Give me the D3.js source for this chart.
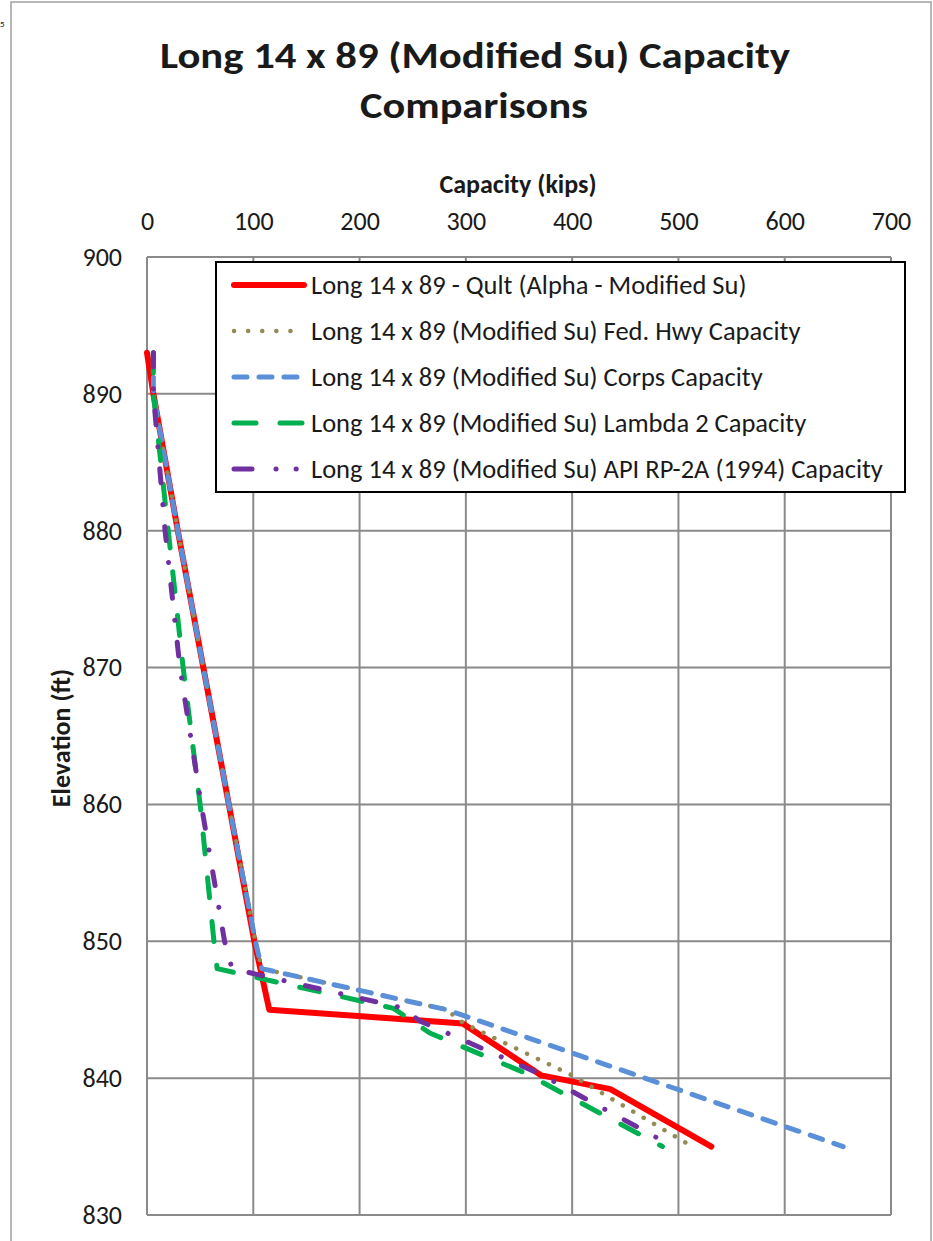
<!DOCTYPE html>
<html>
<head>
<meta charset="UTF-8">
<title>long_14x89_capacity</title>
<script src="https://cdn.jsdelivr.net/npm/d3@7"></script>
<style>
  body { margin: 0; background: #fff; }
  text { font-family: Carlito, Calibri, Lato, sans-serif; fill: #1a1a1a; }
  .tick text { font-size: 26px; }
  .legend text { font-size: 26.5px; }
</style>
</head>
<body>
<div id="chart"></div>
<script>
// tick labels
var xTicks = [0, 100, 200, 300, 400, 500, 600, 700];
var yTicks = [830, 840, 850, 860, 870, 880, 890, 900];

// series: capacity (kips) vs elevation (ft)
var qultCap  = [0, 6, 29, 53, 77, 101, 115, 297, 371, 436, 531];
var qultElev = [893, 890, 880, 870, 860, 850, 845, 844, 840.2, 839.2, 835];

var fedHwyCap  = [6, 6, 29, 53, 77, 102, 108, 282, 298, 400, 513];
var fedHwyElev = [893, 890, 880, 870, 860, 850, 848, 845, 844, 840.2, 835];

var corpsCap  = [6, 6, 29, 53, 77, 102, 108, 282, 655];
var corpsElev = [893, 890, 880, 870, 860, 850, 848, 845, 835];

var lambdaCap  = [6, 6, 20, 34, 50, 63, 66, 232, 266, 355, 485];
var lambdaElev = [893, 890, 880, 870, 860, 850, 848, 845.1, 843.3, 840.4, 835];

var apiCap  = [6, 6, 17, 31, 51, 73, 80, 242, 256, 370, 495];
var apiElev = [893, 890, 880, 870, 860, 850, 848, 845.1, 844.2, 840.3, 835];

var seriesNames = [
  "Long 14 x 89 - Qult (Alpha - Modified Su)",
  "Long 14 x 89 (Modified Su) Fed. Hwy Capacity",
  "Long 14 x 89 (Modified Su) Corps Capacity",
  "Long 14 x 89 (Modified Su) Lambda 2 Capacity",
  "Long 14 x 89 (Modified Su) API RP-2A (1994) Capacity"
];

var W = 933, H = 1241;

function zip(caps, elevs) {
  return caps.map(function (c, i) { return { cap: c, elev: elevs[i] }; });
}

var styles = [
  { color: "#ff0000", width: 6,   dash: null,                 legendDash: null },
  { color: "#948a54", width: 4.5, dash: "0.1 12",             legendDash: "0.1 14" },
  { color: "#5b8fd8", width: 5,   dash: "13 12",              legendDash: "13 12" },
  { color: "#00b050", width: 5,   dash: "20 24",              legendDash: "22 24" },
  { color: "#7030a0", width: 5,   dash: "14 22 0.1 22",       legendDash: "18 24 0.1 20 0.1 40" }
];

var series = [
  zip(qultCap, qultElev),
  zip(fedHwyCap, fedHwyElev),
  zip(corpsCap, corpsElev),
  zip(lambdaCap, lambdaElev),
  zip(apiCap, apiElev)
];

var svg = d3.select("#chart").append("svg")
  .attr("width", W)
  .attr("height", H);

// chart frame
svg.append("rect")
  .attr("x", 11).attr("y", 2)
  .attr("width", 920).attr("height", H + 10)
  .attr("fill", "none")
  .attr("stroke", "#a0a0a0")
  .attr("stroke-width", 1.5);

svg.append("text")
  .attr("x", 0).attr("y", 27)
  .style("font-size", "9px")
  .text("5");

var x = d3.scaleLinear().domain([0, 700]).range([147, 891]);
var y = d3.scaleLinear().domain([830, 900]).range([1215, 257]);

// gridlines
svg.append("g").selectAll("line.gx")
  .data(xTicks).enter().append("line")
    .attr("x1", function (d) { return x(d); })
    .attr("x2", function (d) { return x(d); })
    .attr("y1", y(900)).attr("y2", y(830))
    .attr("stroke", "#8a8a8a").attr("stroke-width", 2);

svg.append("g").selectAll("line.gy")
  .data(yTicks).enter().append("line")
    .attr("x1", x(0)).attr("x2", x(700))
    .attr("y1", function (d) { return y(d); })
    .attr("y2", function (d) { return y(d); })
    .attr("stroke", "#8a8a8a").attr("stroke-width", 2);

// axes (labels only)
var axisX = d3.axisTop(x).tickValues(xTicks).tickSize(0).tickPadding(27);
var gx = svg.append("g")
  .attr("transform", "translate(0," + y(900) + ")")
  .call(axisX);
gx.select(".domain").remove();

var axisY = d3.axisLeft(y).tickValues(yTicks).tickSize(0).tickPadding(25);
var gy = svg.append("g")
  .attr("transform", "translate(" + x(0) + ",0)")
  .call(axisY);
gy.select(".domain").remove();

svg.selectAll(".tick text").attr("fill", "#1a1a1a").style("font-family", "Carlito, Calibri, Lato, sans-serif");

// titles
svg.append("text")
  .attr("x", 475).attr("y", 68)
  .attr("text-anchor", "middle")
  .attr("textLength", 630).attr("lengthAdjust", "spacingAndGlyphs")
  .style("font-size", "37px").style("font-weight", "bold")
  .text("Long 14 x 89 (Modified Su) Capacity");

svg.append("text")
  .attr("x", 474).attr("y", 118)
  .attr("text-anchor", "middle")
  .attr("textLength", 228).attr("lengthAdjust", "spacingAndGlyphs")
  .style("font-size", "37px").style("font-weight", "bold")
  .text("Comparisons");

svg.append("text")
  .attr("x", 518).attr("y", 193)
  .attr("text-anchor", "middle")
  .style("font-size", "26px").style("font-weight", "bold")
  .text("Capacity (kips)");

svg.append("text")
  .attr("transform", "translate(70,738) rotate(-90)")
  .attr("text-anchor", "middle")
  .style("font-size", "26px").style("font-weight", "bold")
  .text("Elevation (ft)");

// series lines
var line = d3.line()
  .x(function (d) { return x(d.cap); })
  .y(function (d) { return y(d.elev); });

svg.append("g").selectAll("path.series")
  .data(series).enter().append("path")
    .attr("d", line)
    .attr("fill", "none")
    .attr("stroke", function (d, i) { return styles[i].color; })
    .attr("stroke-width", function (d, i) { return styles[i].width; })
    .attr("stroke-dasharray", function (d, i) { return styles[i].dash; })
    .attr("stroke-linecap", "round")
    .attr("stroke-linejoin", "round");

// legend
var legend = svg.append("g").attr("class", "legend");
legend.append("rect")
  .attr("x", 216).attr("y", 262)
  .attr("width", 689).attr("height", 230)
  .attr("fill", "#fff")
  .attr("stroke", "#000")
  .attr("stroke-width", 2);

var items = legend.selectAll("g.item")
  .data(seriesNames).enter().append("g")
    .attr("transform", function (d, i) { return "translate(0," + (285 + i * 46) + ")"; });

items.append("line")
  .attr("x1", 234).attr("x2", 304)
  .attr("y1", 0).attr("y2", 0)
  .attr("stroke", function (d, i) { return styles[i].color; })
  .attr("stroke-width", function (d, i) { return styles[i].width; })
  .attr("stroke-dasharray", function (d, i) { return styles[i].legendDash; })
  .attr("stroke-linecap", "round");

items.append("text")
  .attr("x", 311).attr("y", 9)
  .text(function (d) { return d; });
</script>
</body>
</html>
